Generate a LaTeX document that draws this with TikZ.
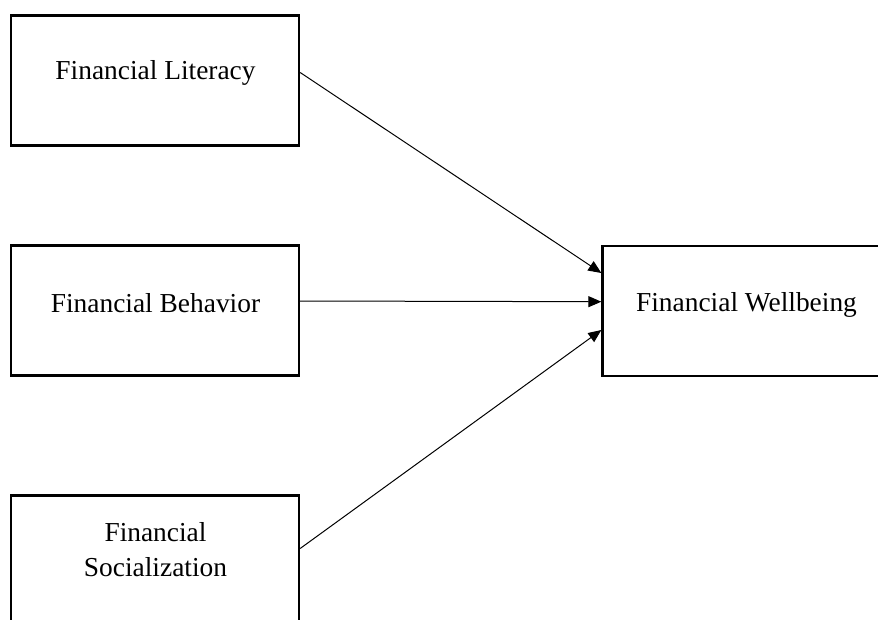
\documentclass[tikz,border=0pt]{standalone}
\usepackage{fontspec}
\setmainfont{Liberation Serif}
\usetikzlibrary{arrows.meta,calc}
\begin{document}
\begin{tikzpicture}[x=1pt,y=1pt,
  box/.style={draw=black,line width=2.3pt,minimum width=288pt,minimum height=130pt,inner sep=0pt,fill=white},
  lbl/.style={font=\fontsize{27.4pt}{35pt}\selectfont,align=center,inner sep=0pt,text=black},
  arr/.style={line width=1pt,-{Triangle[length=13pt,width=11pt]}}]
\useasboundingbox (0,0) rectangle (878,-619);
\clip (0,0) rectangle (878,-619);
\fill[white] (0,0) rectangle (878,-619);
\node[box] (lit) at (155,-80.5) {};
\node[box] (beh) at (155,-310.5) {};
\node[box] (soc) at (155,-560.5) {};
\node[box] (wb) at (746.5,-311) {};
\node[lbl] (litT) at (155.5,-73) {Financial Literacy};
\node[lbl] (behT) at (155.5,-303) {Financial Behavior};
\node[lbl] (socT) at (155.5,-550) {Financial\\Socialization};
\node[lbl] (wbT) at (746.5,-305) {Financial Wellbeing};
\coordinate (t1) at ($(wb.west)+(0,38)$);
\coordinate (t2) at ($(wb.west)+(0,9.3)$);
\coordinate (t3) at ($(wb.west)+(0,-19)$);
\draw[arr] ($(lit.east)+(0,8)$) -- (t1);
\draw[arr] ($(beh.east)+(0,9.5)$) -- (t2);
\draw[arr] ($(soc.east)+(0,12)$) -- (t3);
\end{tikzpicture}
\end{document}
